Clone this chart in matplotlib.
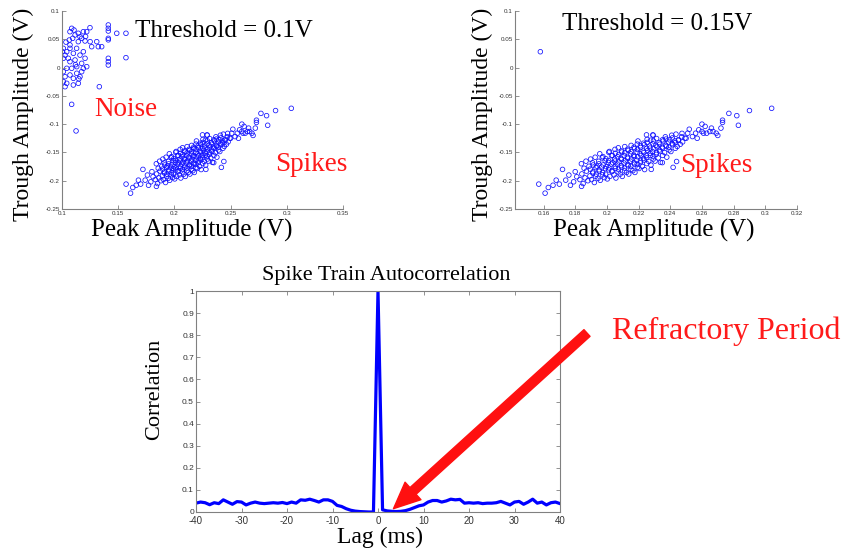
import numpy as np
import matplotlib
matplotlib.use("Agg")
import matplotlib.pyplot as plt
from matplotlib.ticker import FuncFormatter

# ---- data ------------------------------------------------------------------
# spike cluster (peak, trough) in volts, shared by both threshold panels
spikes = [
    # lower tail
    (0.157, -0.206), (0.161, -0.222), (0.163, -0.212), (0.166, -0.208), (0.168, -0.199),
    (0.170, -0.206), (0.172, -0.180), (0.174, -0.199), (0.176, -0.190), (0.177, -0.208),
    (0.179, -0.202), (0.180, -0.184), (0.181, -0.193), (0.183, -0.198), (0.184, -0.210),
    # dense body
    (0.1850, -0.2050), (0.1862, -0.1950), (0.1842, -0.1880), (0.1856, -0.1780), (0.1839, -0.1700),
    (0.1880, -0.2000), (0.1893, -0.1915), (0.1871, -0.1830), (0.1887, -0.1745), (0.1868, -0.1655),
    (0.1903, -0.1980), (0.1911, -0.1865), (0.1895, -0.1795), (0.1914, -0.1722), (0.1897, -0.1618),
    (0.1921, -0.2032), (0.1929, -0.1921), (0.1912, -0.1843), (0.1931, -0.1768), (0.1909, -0.1683),
    (0.1926, -0.1585), (0.1944, -0.1958), (0.1933, -0.1884), (0.1951, -0.1806), (0.1937, -0.1743),
    (0.1948, -0.1657), (0.1958, -0.1993), (0.1972, -0.1897), (0.1951, -0.1834), (0.1967, -0.1758),
    (0.1949, -0.1702), (0.1971, -0.1596), (0.1955, -0.1524), (0.1984, -0.1945), (0.1973, -0.1857),
    (0.1991, -0.1786), (0.1977, -0.1722), (0.1989, -0.1646), (0.1975, -0.1574), (0.2003, -0.1968),
    (0.1992, -0.1885), (0.2011, -0.1808), (0.1996, -0.1752), (0.2009, -0.1677), (0.1994, -0.1613),
    (0.2012, -0.1497), (0.2019, -0.1924), (0.2032, -0.1838), (0.2013, -0.1773), (0.2027, -0.1706),
    (0.2011, -0.1644), (0.2029, -0.1558), (0.2016, -0.1483), (0.2045, -0.1897), (0.2033, -0.1824),
    (0.2052, -0.1748), (0.2037, -0.1683), (0.2049, -0.1617), (0.2035, -0.1553), (0.2051, -0.1446),
    (0.2057, -0.1952), (0.2071, -0.1846), (0.2053, -0.1782), (0.2066, -0.1706), (0.2051, -0.1652),
    (0.2069, -0.1577), (0.2054, -0.1514), (0.2072, -0.1418), (0.2084, -0.1883), (0.2073, -0.1797),
    (0.2091, -0.1734), (0.2076, -0.1668), (0.2089, -0.1603), (0.2074, -0.1537), (0.2092, -0.1474),
    (0.2097, -0.1924), (0.2112, -0.1826), (0.2093, -0.1763), (0.2108, -0.1687), (0.2091, -0.1624),
    (0.2109, -0.1558), (0.2094, -0.1493), (0.2113, -0.1397), (0.2124, -0.1853), (0.2111, -0.1776),
    (0.2133, -0.1714), (0.2116, -0.1648), (0.2129, -0.1584), (0.2113, -0.1507), (0.2131, -0.1443),
    (0.2138, -0.1882), (0.2152, -0.1797), (0.2134, -0.1736), (0.2149, -0.1655), (0.2131, -0.1603),
    (0.2151, -0.1526), (0.2135, -0.1464), (0.2153, -0.1376), (0.2164, -0.1823), (0.2151, -0.1745),
    (0.2172, -0.1684), (0.2156, -0.1617), (0.2169, -0.1553), (0.2153, -0.1486), (0.2171, -0.1407),
    (0.2177, -0.1854), (0.2193, -0.1767), (0.2175, -0.1706), (0.2189, -0.1637), (0.2172, -0.1574),
    (0.2191, -0.1497), (0.2174, -0.1432), (0.2192, -0.1353), (0.2203, -0.1784), (0.2191, -0.1705),
    (0.2212, -0.1653), (0.2195, -0.1577), (0.2209, -0.1524), (0.2193, -0.1446), (0.2211, -0.1384),
    (0.2196, -0.1298), (0.2224, -0.1746), (0.2211, -0.1683), (0.2232, -0.1607), (0.2216, -0.1553),
    (0.2229, -0.1476), (0.2213, -0.1412), (0.2231, -0.1337), (0.2238, -0.1803), (0.2252, -0.1697),
    (0.2235, -0.1634), (0.2249, -0.1556), (0.2233, -0.1504), (0.2251, -0.1427), (0.2236, -0.1363),
    (0.2254, -0.1268), (0.2264, -0.1657), (0.2251, -0.1596), (0.2273, -0.1517), (0.2257, -0.1464),
    (0.2269, -0.1387), (0.2254, -0.1324), (0.2278, -0.1724), (0.2293, -0.1617), (0.2275, -0.1553),
    (0.2289, -0.1486), (0.2272, -0.1424), (0.2291, -0.1347), (0.2276, -0.1284), (0.2292, -0.1196),
    (0.2304, -0.1653), (0.2291, -0.1567), (0.2313, -0.1504), (0.2296, -0.1436), (0.2309, -0.1374),
    (0.2294, -0.1297), (0.2324, -0.1597), (0.2311, -0.1534), (0.2332, -0.1457), (0.2316, -0.1403),
    (0.2329, -0.1326), (0.2314, -0.1254), (0.2338, -0.1676), (0.2352, -0.1553), (0.2335, -0.1484),
    (0.2349, -0.1407), (0.2333, -0.1354), (0.2351, -0.1277), (0.2364, -0.1503), (0.2351, -0.1426),
    (0.2372, -0.1374), (0.2356, -0.1297), (0.2369, -0.1224), (0.2378, -0.1584), (0.2393, -0.1457),
    (0.2375, -0.1394), (0.2389, -0.1317), (0.2373, -0.1264), (0.2404, -0.1484), (0.2391, -0.1407),
    (0.2412, -0.1344), (0.2396, -0.1277), (0.2409, -0.1196), (0.2418, -0.1764), (0.2432, -0.1427),
    (0.2415, -0.1364), (0.2429, -0.1297), (0.2413, -0.1244), (0.2444, -0.1394), (0.2431, -0.1327),
    (0.2452, -0.1274), (0.2436, -0.1177), (0.2463, -0.1356), (0.2451, -0.1287), (0.2472, -0.1224),
    (0.2478, -0.1314), (0.2493, -0.1247), (0.2474, -0.1163),
    # upper tail
    (0.244, -0.166), (0.235, -0.168), (0.228, -0.180), (0.229, -0.119), (0.225, -0.119),
    (0.250, -0.125), (0.251, -0.116), (0.252, -0.109), (0.254, -0.122), (0.256, -0.116),
    (0.257, -0.125), (0.258, -0.110), (0.260, -0.113), (0.260, -0.100), (0.261, -0.116),
    (0.262, -0.104), (0.263, -0.116), (0.265, -0.113), (0.266, -0.107), (0.267, -0.113),
    (0.269, -0.116), (0.270, -0.120), (0.272, -0.107), (0.273, -0.097), (0.273, -0.093),
    (0.277, -0.081), (0.283, -0.102), (0.282, -0.085), (0.290, -0.076), (0.304, -0.072),
]

# low-amplitude events that only pass the 0.1 V threshold
noise = [
    (0.1086, 0.0694), (0.1107, 0.0664), (0.1071, 0.0634), (0.1116, 0.0576), (0.1095, 0.0517),
    (0.1065, 0.0487), (0.1145, 0.0606), (0.1160, 0.0546), (0.1190, 0.0634), (0.1220, 0.0634),
    (0.1249, 0.0705), (0.1175, 0.0517), (0.1205, 0.0470), (0.1250, 0.0458), (0.1264, 0.0369),
    (0.1309, 0.0458), (0.1323, 0.0369), (0.1353, 0.0369), (0.1412, 0.0753), (0.1412, 0.0694),
    (0.1412, 0.0646), (0.1412, 0.0517), (0.1412, 0.0490), (0.1487, 0.0606), (0.1569, 0.0606),
    (0.1569, 0.0175), (0.1412, 0.0164), (0.1412, 0.0104), (0.1412, 0.0045), (0.1332, -0.0338),
    (0.1086, -0.0650), (0.1125, -0.1120), (0.1012, 0.0340), (0.1042, 0.0280), (0.1027, 0.0220),
    (0.1071, 0.0340), (0.1101, 0.0252), (0.1130, 0.0340), (0.1160, 0.0220), (0.1190, 0.0280),
    (0.1205, 0.0164), (0.1175, 0.0075), (0.1131, 0.0016), (0.1071, 0.0104), (0.1042, -0.0013),
    (0.1012, -0.0073), (0.1027, -0.0161), (0.1012, -0.0250), (0.1071, -0.0131), (0.1101, -0.0190),
    (0.1131, -0.0101), (0.1160, -0.0161), (0.1145, -0.0278), (0.1101, -0.0308), (0.1042, -0.0278),
    (0.1027, -0.0338), (0.1190, -0.0013), (0.1220, 0.0016), (0.1175, -0.0073), (0.1086, -0.0013),
    (0.1056, 0.0164), (0.1116, 0.0134), (0.1145, 0.0458), (0.1071, 0.0400), (0.1012, 0.0164),
    (0.1005, 0.0280), (0.1120, 0.0050), (0.1150, -0.0200), (0.1035, 0.0450), (0.1210, 0.0550),
]

# single outlier surviving the 0.15 V threshold
outlier_015 = [(0.158, 0.028)]

# spike-train autocorrelation, lag -40..40 ms
lags = np.arange(-40, 41)
autocorr = [
    0.040, 0.045, 0.042, 0.033, 0.042, 0.038, 0.055, 0.045, 0.035, 0.047,
    0.045, 0.032, 0.040, 0.045, 0.040, 0.038, 0.040, 0.042, 0.040, 0.043,
    0.038, 0.045, 0.040, 0.055, 0.053, 0.058, 0.052, 0.045, 0.055, 0.055,
    0.048, 0.030, 0.025, 0.015, 0.008, 0.004, 0.002, 0.001, 0.000, 0.000,
    1.000,
    0.010, 0.005, 0.003, 0.002, 0.003, 0.006, 0.012, 0.020, 0.028, 0.032,
    0.045, 0.052, 0.052, 0.045, 0.050, 0.058, 0.055, 0.057, 0.040, 0.042,
    0.040, 0.042, 0.038, 0.040, 0.040, 0.042, 0.048, 0.040, 0.032, 0.045,
    0.048, 0.035, 0.045, 0.058, 0.040, 0.045, 0.032, 0.042, 0.045, 0.038,
]

SERIF = "Liberation Serif"
TICKFONT = "Liberation Sans"
W, H = 849, 550


def fmt(v, _pos):
    s = f"{v:.2f}".rstrip("0").rstrip(".")
    return "0" if s in ("-0", "0") else s


def style_axes(ax, xsize, ysize, box=False, xpad=1.5):
    for side in ("top", "right"):
        ax.spines[side].set_visible(box)
    for sp in ax.spines.values():
        sp.set_color("#808080")
        sp.set_linewidth(0.8)
    ax.tick_params(direction="in", length=3, width=0.6, color="#808080",
                   labelcolor="#333333", top=box, right=box)
    ax.tick_params(axis="x", labelsize=xsize, pad=xpad)
    ax.tick_params(axis="y", labelsize=ysize, pad=1.5)
    for lab in ax.get_xticklabels() + ax.get_yticklabels():
        lab.set_fontfamily(TICKFONT)
    ax.xaxis.set_major_formatter(FuncFormatter(fmt))
    ax.yaxis.set_major_formatter(FuncFormatter(fmt))


def scatter_panel(ax, pts, xlim, xticks, thr_text, thr_pos, spikes_pos):
    px = [p[0] for p in pts]
    py = [p[1] for p in pts]
    ax.scatter(px, py, s=11, facecolors="none", edgecolors="#1010ff", linewidths=0.55)
    ax.set_xlim(*xlim)
    ax.set_ylim(-0.25, 0.1)
    ax.set_xticks(xticks)
    ax.set_yticks(np.arange(-0.25, 0.101, 0.05))
    style_axes(ax, 4.5, 4.5)
    ax.set_xlabel("Peak Amplitude (V)", fontsize=18, family=SERIF, va="center")
    ax.set_ylabel("Trough Amplitude (V)", fontsize=17, family=SERIF, va="center")
    ax.text(*thr_pos, thr_text, transform=ax.transAxes, fontsize=18, family=SERIF,
            ha="center", va="center")
    ax.text(*spikes_pos, "Spikes", transform=ax.transAxes, fontsize=19.5, family=SERIF,
            color="#ff1a1a", ha="center", va="center")


fig = plt.figure(figsize=(W / 100, H / 100), dpi=100)
fig.patch.set_facecolor("white")

ax1 = fig.add_axes([62 / W, 1 - 209 / H, 281 / W, 198 / H])
ax2 = fig.add_axes([515 / W, 1 - 209 / H, 282 / W, 198 / H])
ax3 = fig.add_axes([196 / W, 1 - 512 / H, 364 / W, 221 / H])

scatter_panel(ax1, spikes + noise, (0.1, 0.35), np.arange(0.1, 0.351, 0.05),
              "Threshold = 0.1V", (0.577, 0.9), (0.886, 0.227))
ax1.text(0.228, 0.5, "Noise", transform=ax1.transAxes, fontsize=19.5, family=SERIF,
         color="#ff1a1a", ha="center", va="center")
ax1.xaxis.set_label_coords(0.46, -0.106)
ax1.yaxis.set_label_coords(-0.139, 0.48)

scatter_panel(ax2, spikes + outlier_015, (0.142, 0.32), np.arange(0.16, 0.321, 0.02),
              "Threshold = 0.15V", (0.505, 0.935), (0.715, 0.222))
ax2.xaxis.set_label_coords(0.493, -0.106)
ax2.yaxis.set_label_coords(-0.117, 0.48)

# autocorrelation panel
ax3.plot(lags, autocorr, color="#0000ff", lw=2.3)
ax3.set_xlim(-40, 40)
ax3.set_ylim(0, 1)
ax3.set_xticks(np.arange(-40, 41, 10))
ax3.set_yticks(np.arange(0, 1.01, 0.1))
style_axes(ax3, 7, 6, box=True, xpad=3)
ax3.xaxis.set_major_formatter(FuncFormatter(lambda v, p: f"{int(round(v))}"))
ax3.set_xlabel("Lag (ms)", fontsize=17, family=SERIF, va="center")
ax3.set_ylabel("Correlation", fontsize=16, family=SERIF, va="center")
ax3.xaxis.set_label_coords(0.505, -0.113)
ax3.yaxis.set_label_coords(-0.113, 0.556)
ax3.text(0.522, 1.072, "Spike Train Autocorrelation", transform=ax3.transAxes,
         fontsize=16, family=SERIF, ha="center", va="center")

ax3.annotate("", xy=(3.4, 0.015), xycoords="data",
             xytext=(587 / W, 1 - 333 / H), textcoords="figure fraction",
             arrowprops=dict(width=6.5, headwidth=17, headlength=19, color="#ff1010",
                             shrink=0),
             annotation_clip=False)
fig.text(726.5 / W, 1 - 331 / H, "Refractory Period", fontsize=23, family=SERIF,
         color="#ff1a1a", ha="center", va="center")

fig.savefig("out.png", dpi=100)
